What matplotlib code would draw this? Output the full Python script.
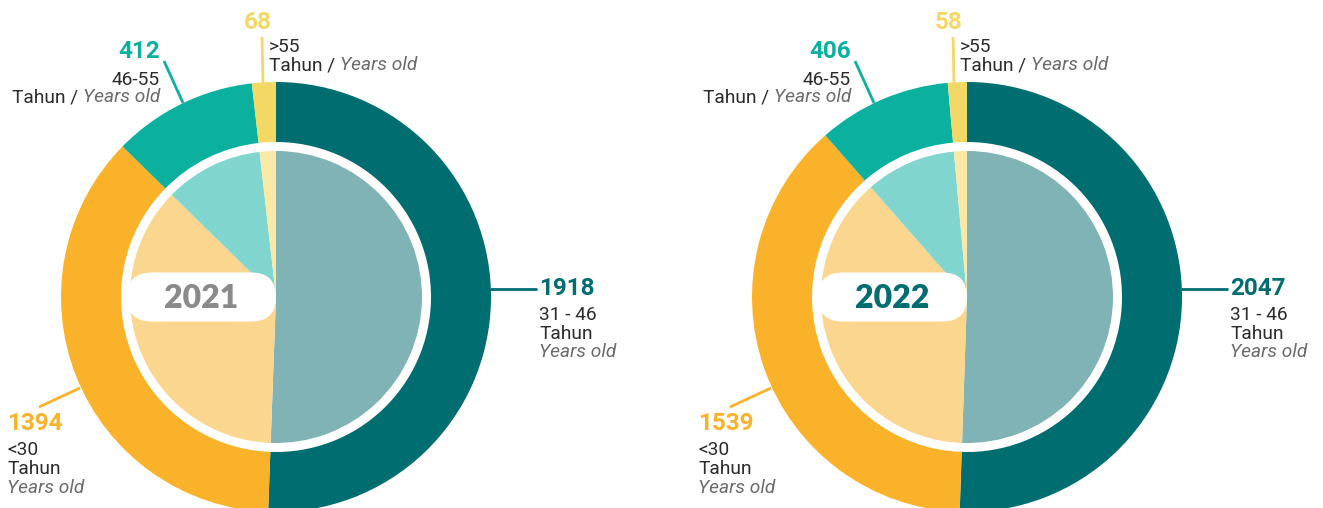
import matplotlib
matplotlib.use("Agg")
import matplotlib.pyplot as plt
from matplotlib.patches import FancyBboxPatch

# ---- data ----
years = ["2021", "2022"]
groups = ["31 - 46", "<30", "46-55", ">55"]
values_2021 = [1918, 1394, 412, 68]
values_2022 = [2047, 1539, 406, 58]
outer_colors = ["#006D71", "#F9B229", "#0BB09F", "#F4D865"]
inner_colors = ["#7FB3B5", "#FBD68E", "#80D6CE", "#FAE8A4"]
year_colors = ["#8A8A8A", "#006D71"]

W, H = 1323, 508
fig = plt.figure(figsize=(W / 100, H / 100), dpi=100)
ax = fig.add_axes([0, 0, 1, 1])
ax.set_xlim(0, W)
ax.set_ylim(0, H)
ax.axis("off")

FONT = "Roboto"
DARK = "#2B2B2B"
GRAY = "#6B6B6B"
NUM_FS = 17.5
TXT_FS = 13.8


def Y(y):
    return H - y


def donut(cx, cy, vals, year, ycol):
    c = (cx, Y(cy))
    ax.pie(vals, colors=outer_colors, startangle=90, counterclock=False,
           radius=215, center=c, frame=True,
           wedgeprops=dict(width=60, linewidth=0))
    ax.pie(vals, colors=inner_colors, startangle=90, counterclock=False,
           radius=146, center=c, frame=True,
           wedgeprops=dict(linewidth=0))
    # year badge
    box = FancyBboxPatch((cx - 149 + 24.5, Y(cy)), 149 - 49, 0.001,
                         boxstyle="round,pad=24.5,rounding_size=24.5",
                         fc="white", ec="none", zorder=5)
    ax.add_patch(box)
    ax.text(cx - 75, Y(cy + 11), year, color=ycol, fontsize=23,
            fontfamily="Lato", fontweight="heavy", ha="center",
            va="baseline", zorder=6)


def line(p0, p1, col):
    ax.plot([p0[0], p1[0]], [Y(p0[1]), Y(p1[1])], color=col, lw=2,
            solid_capstyle="butt", zorder=4)


def txt(x, yb, s, ha="left", **kw):
    ax.text(x, Y(yb), s, ha=ha, va="baseline", fontfamily=FONT, **kw)


def labels(dx, vals):
    # 31-46 (right)
    line((490 + dx, 289), (537 + dx, 289), outer_colors[0])
    txt(539 + dx, 295, str(vals[0]), color=outer_colors[0], fontsize=NUM_FS,
        fontweight="bold")
    txt(539 + dx, 320, groups[0], color=DARK, fontsize=TXT_FS)
    txt(539 + dx, 339, "Tahun", color=DARK, fontsize=TXT_FS)
    txt(539 + dx, 357, "Years old", color=GRAY, fontsize=TXT_FS,
        fontstyle="italic")
    # <30 (bottom-left)
    line((39 + dx, 407), (80 + dx, 388), outer_colors[1])
    txt(7 + dx, 430, str(vals[1]), color=outer_colors[1], fontsize=NUM_FS,
        fontweight="bold")
    txt(7 + dx, 455, groups[1], color=DARK, fontsize=TXT_FS)
    txt(7 + dx, 474, "Tahun", color=DARK, fontsize=TXT_FS)
    txt(7 + dx, 493, "Years old", color=GRAY, fontsize=TXT_FS,
        fontstyle="italic")
    # 46-55 (top-left)
    line((164 + dx, 61), (183 + dx, 103), outer_colors[2])
    txt(160 + dx, 58, str(vals[2]), ha="right", color=outer_colors[2],
        fontsize=NUM_FS, fontweight="bold")
    txt(160 + dx, 85, groups[2], ha="right", color=DARK, fontsize=TXT_FS)
    t = ax.text(160 + dx, Y(102), "Years old", ha="right", va="baseline",
                fontfamily=FONT, fontsize=TXT_FS, color=GRAY,
                fontstyle="italic")
    ax.annotate("Tahun / ", xy=(0, 0), xycoords=t, ha="right", va="bottom",
                xytext=(0, 0), textcoords="offset points",
                fontfamily=FONT, fontsize=TXT_FS, color=DARK)
    # >55 (top)
    line((262 + dx, 37), (263 + dx, 83), outer_colors[3])
    txt(258 + dx, 29, str(vals[3]), ha="center", color=outer_colors[3],
        fontsize=NUM_FS, fontweight="bold")
    txt(269 + dx, 52, groups[3], color=DARK, fontsize=TXT_FS)
    t2 = ax.text(269 + dx, Y(70), "Tahun / ", ha="left", va="baseline",
                 fontfamily=FONT, fontsize=TXT_FS, color=DARK)
    ax.annotate("Years old", xy=(1, 0), xycoords=t2, ha="left",
                va="bottom", fontfamily=FONT, fontsize=TXT_FS, color=GRAY,
                fontstyle="italic")


donut(276, 297, values_2021, years[0], year_colors[0])
labels(0, values_2021)
donut(967, 297, values_2022, years[1], year_colors[1])
labels(691, values_2022)

ax.set_xlim(0, W)
ax.set_ylim(0, H)
ax.set_aspect("auto")
ax.axis("off")

fig.savefig("out.png", dpi=100, facecolor="white")
